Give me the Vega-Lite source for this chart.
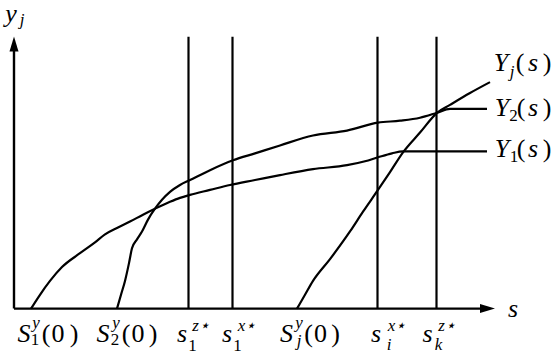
{
  "$schema": "https://vega.github.io/schema/vega-lite/v6.json",
  "width": 554,
  "height": 363,
  "padding": 0,
  "autosize": {"type": "fit", "contains": "padding"},
  "background": "white",
  "config": {"view": {"stroke": null}},
  "datasets": {
    "curves": [
      {"s": "Y1", "x": 17, "y": 0}, {"s": "Y1", "x": 26, "y": 14}, {"s": "Y1", "x": 36, "y": 28}, {"s": "Y1", "x": 48, "y": 42},
      {"s": "Y1", "x": 66, "y": 56}, {"s": "Y1", "x": 81, "y": 67}, {"s": "Y1", "x": 91, "y": 75}, {"s": "Y1", "x": 104, "y": 82},
      {"s": "Y1", "x": 116, "y": 88}, {"s": "Y1", "x": 129, "y": 95}, {"s": "Y1", "x": 141, "y": 101}, {"s": "Y1", "x": 156, "y": 108},
      {"s": "Y1", "x": 166, "y": 112}, {"s": "Y1", "x": 176, "y": 115}, {"s": "Y1", "x": 196, "y": 120}, {"s": "Y1", "x": 216, "y": 125},
      {"s": "Y1", "x": 241, "y": 130}, {"s": "Y1", "x": 266, "y": 135}, {"s": "Y1", "x": 299, "y": 141}, {"s": "Y1", "x": 333, "y": 145},
      {"s": "Y1", "x": 351, "y": 149}, {"s": "Y1", "x": 364, "y": 153}, {"s": "Y1", "x": 378, "y": 157}, {"s": "Y1", "x": 389, "y": 159},
      {"s": "Y1", "x": 473, "y": 159},
      {"s": "Y2", "x": 103, "y": 0}, {"s": "Y2", "x": 107, "y": 14}, {"s": "Y2", "x": 111, "y": 28}, {"s": "Y2", "x": 115, "y": 46},
      {"s": "Y2", "x": 118, "y": 61}, {"s": "Y2", "x": 123, "y": 70}, {"s": "Y2", "x": 128, "y": 78}, {"s": "Y2", "x": 134, "y": 90},
      {"s": "Y2", "x": 141, "y": 101}, {"s": "Y2", "x": 148, "y": 110}, {"s": "Y2", "x": 156, "y": 118}, {"s": "Y2", "x": 166, "y": 125},
      {"s": "Y2", "x": 176, "y": 130}, {"s": "Y2", "x": 196, "y": 140}, {"s": "Y2", "x": 219, "y": 150}, {"s": "Y2", "x": 241, "y": 157},
      {"s": "Y2", "x": 266, "y": 165}, {"s": "Y2", "x": 299, "y": 175}, {"s": "Y2", "x": 333, "y": 180}, {"s": "Y2", "x": 364, "y": 188},
      {"s": "Y2", "x": 386, "y": 190}, {"s": "Y2", "x": 406, "y": 193}, {"s": "Y2", "x": 423, "y": 198}, {"s": "Y2", "x": 436, "y": 202},
      {"s": "Y2", "x": 473, "y": 202},
      {"s": "Yj", "x": 283, "y": 0}, {"s": "Yj", "x": 291, "y": 14}, {"s": "Yj", "x": 299, "y": 28}, {"s": "Yj", "x": 316, "y": 50},
      {"s": "Yj", "x": 336, "y": 78}, {"s": "Yj", "x": 349, "y": 98}, {"s": "Yj", "x": 364, "y": 120}, {"s": "Yj", "x": 376, "y": 138},
      {"s": "Yj", "x": 389, "y": 158}, {"s": "Yj", "x": 406, "y": 178}, {"s": "Yj", "x": 423, "y": 198}, {"s": "Yj", "x": 436, "y": 206},
      {"s": "Yj", "x": 456, "y": 218}, {"s": "Yj", "x": 476, "y": 229}
    ],
    "axes": [
      {"x": 0, "x2": 0, "y": 0, "y2": 262},
      {"x": 0, "x2": 468, "y": 0, "y2": 0}
    ],
    "verts": [
      {"x": 174.5, "y": 0, "y2": 275},
      {"x": 218.5, "y": 0, "y2": 275},
      {"x": 363.5, "y": 0, "y2": 275},
      {"x": 422.5, "y": 0, "y2": 275}
    ],
    "arrows": [
      {"x": 0, "y": 267.5, "dir": "up"},
      {"x": 473.5, "y": 0, "dir": "right"}
    ],
    "labels": [
      {"t": "y", "x": -3, "y": 290, "k": "it"},
      {"t": "S", "x": 10, "y": -34, "k": "it"},
      {"t": "S", "x": 89, "y": -34, "k": "it"},
      {"t": "s", "x": 168, "y": -34, "k": "it"},
      {"t": "s", "x": 213, "y": -34, "k": "it"},
      {"t": "S", "x": 272.5, "y": -34, "k": "it"},
      {"t": "s", "x": 362, "y": -34, "k": "it"},
      {"t": "s", "x": 413.5, "y": -34, "k": "it"},
      {"t": "s", "x": 499, "y": -8, "k": "it"},
      {"t": "Y", "x": 487, "y": 240, "k": "it"},
      {"t": "s", "x": 519, "y": 240, "k": "it"},
      {"t": "Y", "x": 488, "y": 195, "k": "it"},
      {"t": "s", "x": 519, "y": 195, "k": "it"},
      {"t": "Y", "x": 488, "y": 153, "k": "it"},
      {"t": "s", "x": 519, "y": 153, "k": "it"},
      {"t": "(", "x": 32, "y": -34, "k": "rm"},
      {"t": "0", "x": 44, "y": -34, "k": "rm"},
      {"t": ")", "x": 60, "y": -34, "k": "rm"},
      {"t": "(", "x": 112, "y": -34, "k": "rm"},
      {"t": "0", "x": 124, "y": -34, "k": "rm"},
      {"t": ")", "x": 139, "y": -34, "k": "rm"},
      {"t": "(", "x": 294.5, "y": -34, "k": "rm"},
      {"t": "0", "x": 306.5, "y": -34, "k": "rm"},
      {"t": ")", "x": 321.5, "y": -34, "k": "rm"},
      {"t": "(", "x": 506, "y": 240, "k": "rm"},
      {"t": ")", "x": 533, "y": 240, "k": "rm"},
      {"t": "(", "x": 507, "y": 195, "k": "rm"},
      {"t": ")", "x": 533, "y": 195, "k": "rm"},
      {"t": "(", "x": 507, "y": 153, "k": "rm"},
      {"t": ")", "x": 533, "y": 153, "k": "rm"},
      {"t": "j", "x": 8, "y": 287, "k": "sit"},
      {"t": "y", "x": 22, "y": -20, "k": "sit"},
      {"t": "y", "x": 102, "y": -20, "k": "sit"},
      {"t": "z⋆", "x": 187, "y": -23, "k": "sit"},
      {"t": "x⋆", "x": 233, "y": -23, "k": "sit"},
      {"t": "y", "x": 285, "y": -20, "k": "sit"},
      {"t": "j", "x": 285, "y": -38, "k": "sit"},
      {"t": "x⋆", "x": 383, "y": -23, "k": "sit"},
      {"t": "i", "x": 375, "y": -42, "k": "sit"},
      {"t": "z⋆", "x": 433, "y": -23, "k": "sit"},
      {"t": "k", "x": 424.5, "y": -42, "k": "sit"},
      {"t": "j", "x": 498, "y": 234, "k": "sit"},
      {"t": "1", "x": 21, "y": -37, "k": "srm"},
      {"t": "2", "x": 101, "y": -37, "k": "srm"},
      {"t": "1", "x": 178.5, "y": -43, "k": "srm"},
      {"t": "1", "x": 223.5, "y": -43, "k": "srm"},
      {"t": "2", "x": 499.5, "y": 190, "k": "srm"},
      {"t": "1", "x": 500, "y": 148, "k": "srm"}
    ]
  },
  "encoding": {
    "x": {"field": "x", "type": "quantitative", "axis": null, "scale": {"domain": [-14, 540], "nice": false, "zero": false}},
    "y": {"field": "y", "type": "quantitative", "axis": null, "scale": {"domain": [-55, 308], "nice": false, "zero": false}}
  },
  "layer": [
    {
      "data": {"name": "verts"},
      "mark": {"type": "rule", "color": "black", "strokeWidth": 2.2},
      "encoding": {"y2": {"field": "y2"}}
    },
    {
      "data": {"name": "axes"},
      "mark": {"type": "rule", "color": "black", "strokeWidth": 2.4},
      "encoding": {"x2": {"field": "x2"}, "y2": {"field": "y2"}}
    },
    {
      "data": {"name": "arrows"},
      "mark": {"type": "point", "filled": true, "color": "black", "opacity": 1, "size": 225, "strokeWidth": 0},
      "encoding": {
        "shape": {"field": "dir", "type": "nominal", "legend": null,
          "scale": {"domain": ["up", "right"], "range": ["M0,-1L0.6,1L-0.6,1Z", "M1,0L-1,0.6L-1,-0.6Z"]}}
      }
    },
    {
      "data": {"name": "curves"},
      "mark": {"type": "line", "color": "black", "strokeWidth": 2.2, "interpolate": "monotone"},
      "encoding": {"detail": {"field": "s", "type": "nominal"}}
    },
    {
      "data": {"name": "labels"},
      "transform": [{"filter": "datum.k === 'it'"}],
      "mark": {"type": "text", "font": "serif", "fontStyle": "italic", "fontSize": 26, "align": "center", "baseline": "alphabetic", "color": "black"},
      "encoding": {"text": {"field": "t"}}
    },
    {
      "data": {"name": "labels"},
      "transform": [{"filter": "datum.k === 'rm'"}],
      "mark": {"type": "text", "font": "serif", "fontSize": 26, "align": "center", "baseline": "alphabetic", "color": "black"},
      "encoding": {"text": {"field": "t"}}
    },
    {
      "data": {"name": "labels"},
      "transform": [{"filter": "datum.k === 'sit'"}],
      "mark": {"type": "text", "font": "serif", "fontStyle": "italic", "fontSize": 17, "align": "center", "baseline": "alphabetic", "color": "black"},
      "encoding": {"text": {"field": "t"}}
    },
    {
      "data": {"name": "labels"},
      "transform": [{"filter": "datum.k === 'srm'"}],
      "mark": {"type": "text", "font": "serif", "fontSize": 17, "align": "center", "baseline": "alphabetic", "color": "black"},
      "encoding": {"text": {"field": "t"}}
    }
  ]
}
